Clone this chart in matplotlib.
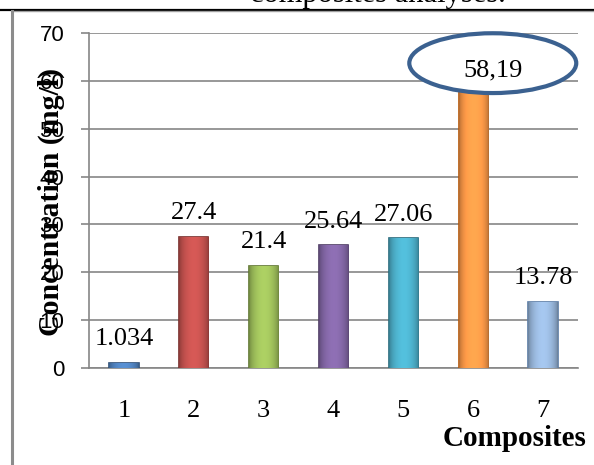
import numpy as np
import matplotlib.pyplot as plt
from matplotlib.patches import Ellipse
from matplotlib.lines import Line2D
from matplotlib.colors import to_rgb

# data
composites = ["1", "2", "3", "4", "5", "6", "7"]
concentration = [1.034, 27.4, 21.4, 25.64, 27.06, 58.19, 13.78]
value_labels = ["1.034", "27.4", "21.4", "25.64", "27.06", "58,19", "13.78"]
bar_colors = ["#4f81bd", "#c0504d", "#9bbb59", "#8064a2", "#4bacc6", "#f79646", "#95b3d7"]
edge_colors = ["#2c4d75", "#772c2a", "#5f7530", "#4d3b62", "#276a7c", "#b65708", "#5a7ba6"]
y_ticks = [0, 10, 20, 30, 40, 50, 60, 70]

W, H = 594, 465
fig = plt.figure(figsize=(W / 100, H / 100), dpi=100)
ax = fig.add_axes([89 / W, 1 - 368 / H, (578 - 89) / W, (368 - 33) / H])

x = list(range(1, len(composites) + 1))
bars = ax.bar(x, concentration, width=0.42, color=bar_colors, edgecolor=edge_colors,
              linewidth=1.2, zorder=3)

# shaded look: darker sides, lighter middle
for b, c in zip(bars, bar_colors):
    base = np.array(to_rgb(c))
    t = np.linspace(0, 1, 40)
    shade = 0.72 + 0.4 * np.sin(np.pi * t) ** 0.6
    grad = np.clip(base[None, :] * shade[:, None], 0, 1)[None, :, :]
    im = ax.imshow(grad, extent=[b.get_x(), b.get_x() + b.get_width(), 0, b.get_height()],
                   aspect="auto", zorder=3.5, interpolation="bilinear")
    im.set_clip_path(b)

# value labels above the bars (the 6th sits in the ellipse)
for xi, v, lab in zip(x, concentration, value_labels):
    if lab == "58,19":
        continue
    ax.annotate(lab, (xi, v), textcoords="offset points", xytext=(0, 17),
                ha="center", va="center", fontsize=19, family="Liberation Serif",
                zorder=5)

# highlighted value
ell = Ellipse((6.28, 63.7), 2.39, 12.5, facecolor="white", edgecolor="#3b6190",
              linewidth=3, zorder=6, clip_on=False)
ax.add_patch(ell)
ax.text(6.28, 62.2, "58,19", ha="center", va="center", fontsize=19,
        family="Liberation Serif", zorder=7)

ax.set_xlim(0.5, 7.5)
ax.set_ylim(0, 70)
ax.set_yticks(y_ticks)
ax.set_xticks(x)
ax.set_xticklabels(composites, fontsize=19, family="Liberation Serif")
for t in ax.get_yticklabels():
    t.set_fontsize(16)
    t.set_family("Liberation Sans")
ax.tick_params(axis="x", length=0, pad=23)
ax.tick_params(axis="y", length=5.8, width=1.2, color="#868686", pad=12)
ax.grid(axis="y", color="#868686", linewidth=1.2, zorder=0)
for side in ["top", "right"]:
    ax.spines[side].set_visible(False)
for side in ["left", "bottom"]:
    ax.spines[side].set_color("#868686")
    ax.spines[side].set_linewidth(1.2)

ax.set_ylabel("Concentration (mg/l)", fontsize=21.5, fontweight="bold",
              family="Liberation Serif")
ax.yaxis.set_label_coords(-0.049, 0.495)

fig.text(587 / W, 1 - 438 / H, "Composites", ha="right", va="center",
         fontsize=21, fontweight="bold", family="Liberation Serif")

# clipped caption and page border lines
fig.text(378 / W, 1 - 2 / H, "composites analyses.", ha="center", va="baseline",
         fontsize=22, family="Liberation Serif")
fig.add_artist(Line2D([0, 1], [1 - 10 / H, 1 - 10 / H], color="black", linewidth=1.6))
fig.add_artist(Line2D([0.02, 1], [1 - 11.5 / H, 1 - 11.5 / H], color="#a0a0a0", linewidth=1))
fig.add_artist(Line2D([12 / W, 12 / W], [0, 1 - 11 / H], color="#8c8c8c", linewidth=2.2))

fig.savefig("out.png", dpi=100)
